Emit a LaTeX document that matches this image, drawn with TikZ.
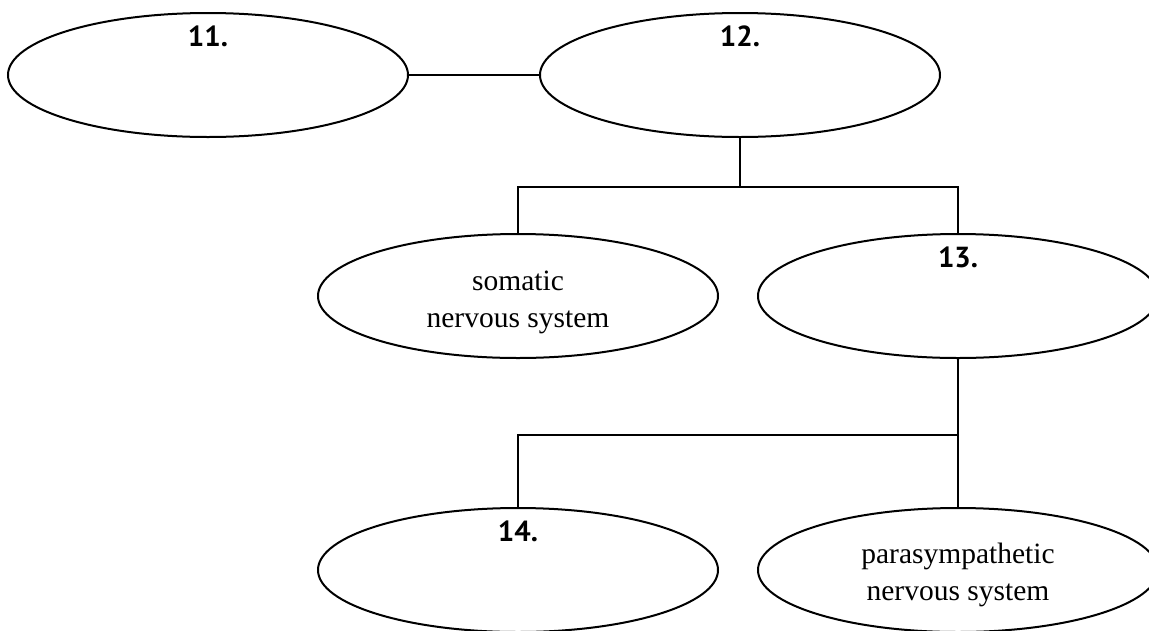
\documentclass[tikz,border=0pt]{standalone}
\usepackage{fontspec}
\setmainfont{Liberation Serif}
\newfontfamily\numfont{PT Sans}
\usetikzlibrary{positioning, shapes.geometric}

\begin{document}
\begin{tikzpicture}[
    x=1pt, y=1pt,
    line width=2pt,
    elipse/.style={ellipse, draw=black, line width=2pt, minimum width=400pt,
        minimum height=124pt, inner sep=0pt},
    texto/.style={inner sep=0pt, align=center,
        font=\fontsize{29.5}{37}\selectfont},
    num/.style={inner sep=0pt, font=\numfont\bfseries\fontsize{29}{29}\selectfont},
    node distance=130pt,
]

% Marco fijo de la figura
\useasboundingbox (0,0) rectangle (1149,-630);

% Fila superior
\node[elipse] (e11) at (208,-75) {};
\node[elipse, right=of e11] (e12) {};

% Segunda fila
\node[elipse] (som) at (518,-296) {};
\node[elipse] (e13) at (958,-296) {};

% Tercera fila
\node[elipse, below=148pt of som] (e14) {};
\node[elipse, below=148pt of e13] (para) {};

% Textos, un poco por debajo del centro
\node[texto] (tsom) at ([yshift=-6pt]som.center) {somatic\\nervous system};
\node[texto] (tpara) at ([yshift=-5pt]para.center) {parasympathetic\\nervous system};

% Numeros dentro de las elipses
\foreach \e/\n in {e11/11., e12/12., e13/13., e14/14.}{
    \node[num, below=13pt of \e.north] (n\e) {\n};
}

% Conectores
\draw (e11) -- (e12);
\draw (e12.south) -- ++(0,-49) coordinate (j12);
\draw (som.north) |- (j12) -| (e13.north);
\draw (e13.south) -- ++(0,-76) coordinate (j13);
\draw (e14.north) |- (j13) -- (para.north);

\end{tikzpicture}
\end{document}
